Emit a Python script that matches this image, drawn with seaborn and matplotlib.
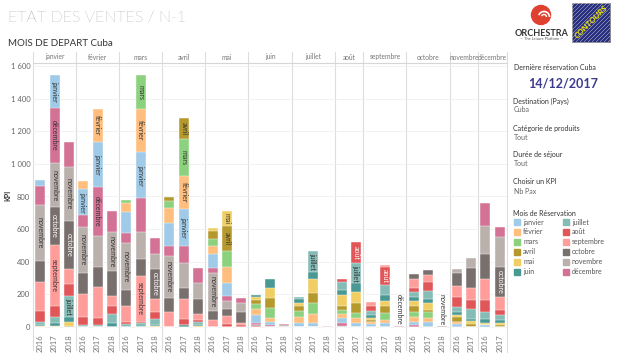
import numpy as np
import pandas as pd
import matplotlib
matplotlib.use("Agg")
import matplotlib.pyplot as plt
import seaborn as sns
from matplotlib.patches import Rectangle, Circle, Arc
from matplotlib.lines import Line2D

# --- data -------------------------------------------------------------
months = ["janvier", "février", "mars", "avril", "mai", "juin",
          "juillet", "août", "septembre", "octobre", "novembre", "décembre"]
month_colors = ["#a0cbe8", "#ffbe7d", "#8cd17d", "#b6992d", "#f1ce63", "#499894",
                "#86bcb6", "#e15759", "#ff9d9a", "#79706e", "#bab0ac", "#d37295"]
y_ticks = [0, 200, 400, 600, 800, 1000, 1200, 1400, 1600]

# Nb Pax per departure month / year, values in booking month order (janvier..décembre)
pax_janvier = {"2016": [41, 0, 0, 2, 2, 10, 15, 68, 178, 131, 339, 118],
               "2017": [205, 0, 0, 0, 8, 15, 36, 70, 374, 231, 269, 337],
               "2018": [0, 0, 0, 5, 28, 30, 129, 72, 92, 294, 329, 157]}
pax_fevrier = {"2016": [157, 53, 0, 0, 0, 0, 12, 47, 143, 131, 282, 72],
               "2017": [280, 198, 0, 0, 0, 0, 12, 41, 194, 123, 188, 298],
               "2018": [0, 0, 0, 0, 0, 23, 57, 51, 61, 153, 235, 133]}
pax_mars = {"2016": [129, 55, 16, 0, 0, 0, 16, 17, 98, 96, 290, 61],
            "2017": [287, 259, 211, 0, 0, 0, 26, 5, 282, 102, 169, 204],
            "2018": [0, 0, 0, 0, 5, 7, 35, 47, 76, 186, 91, 97]}
pax_avril = {"2016": [142, 88, 47, 21, 0, 0, 0, 0, 94, 82, 261, 60],
             "2017": [223, 205, 226, 127, 0, 12, 0, 35, 123, 71, 149, 108],
             "2018": [0, 0, 0, 0, 5, 8, 20, 10, 37, 90, 102, 88]}
pax_mai = {"2016": [83, 51, 41, 52, 14, 0, 0, 0, 43, 57, 229, 35],
           "2017": [82, 94, 102, 153, 92, 0, 0, 18, 51, 41, 51, 29],
           "2018": [0, 0, 0, 0, 0, 0, 3, 9, 14, 68, 51, 31]}
pax_juin = {"2016": [48, 34, 33, 25, 16, 14, 0, 6, 0, 6, 0, 14],
            "2017": [21, 24, 58, 61, 61, 55, 0, 0, 0, 0, 0, 12],
            "2018": [0, 0, 0, 0, 0, 0, 0, 0, 0, 0, 10, 8]}
pax_juillet = {"2016": [23, 36, 41, 29, 20, 21, 12, 0, 0, 0, 0, 0],
               "2017": [23, 57, 65, 62, 85, 43, 133, 0, 0, 0, 0, 0],
               "2018": [0, 0, 0, 0, 0, 0, 0, 0, 0, 0, 0, 6]}
pax_aout = {"2016": [34, 23, 24, 27, 65, 31, 51, 16, 0, 0, 5, 18],
            "2017": [26, 27, 35, 57, 71, 52, 122, 129, 0, 0, 0, 0]}
pax_septembre = {"2016": [18, 11, 0, 14, 14, 16, 25, 31, 26, 0, 0, 0],
                 "2017": [23, 20, 45, 41, 32, 35, 61, 109, 14, 0, 0, 0],
                 "2018": [0, 0, 0, 0, 0, 0, 0, 0, 0, 0, 0, 5]}
pax_octobre = {"2016": [21, 26, 35, 35, 32, 25, 30, 21, 57, 31, 0, 12],
               "2017": [29, 24, 41, 10, 41, 27, 51, 55, 41, 30, 0, 0],
               "2018": [0, 0, 0, 0, 0, 0, 0, 0, 0, 0, 5, 0]}
pax_novembre = {"2016": [18, 15, 0, 26, 15, 20, 27, 65, 65, 82, 21, 0],
                "2017": [0, 0, 0, 18, 21, 10, 59, 58, 71, 127, 57, 0]}
pax_decembre = {"2016": [12, 0, 0, 0, 14, 21, 43, 76, 126, 155, 172, 143],
                "2017": [0, 0, 0, 10, 13, 20, 31, 30, 82, 184, 180, 61]}

pax_by_departure = [pax_janvier, pax_fevrier, pax_mars, pax_avril, pax_mai, pax_juin,
                    pax_juillet, pax_aout, pax_septembre, pax_octobre, pax_novembre,
                    pax_decembre]

# tiny future bars whose label is written above the bar
outside_labels = {("septembre", "2018"): "décembre", ("octobre", "2018"): "novembre"}

# --- figure -----------------------------------------------------------
sns.set_style("white")
plt.rcParams["font.family"] = ["Lato", "DejaVu Sans"]

W, H = 620, 353
fig = plt.figure(figsize=(6.2, 3.53), dpi=100)

# overlay axes in pixel coordinates for texts, lines and logos
ov = fig.add_axes([0, 0, 1, 1])
ov.set_xlim(0, W)
ov.set_ylim(H, 0)
ov.axis("off")

x_left, x_right = 33, 507
p_top, p_bot = 63, 330
ylim = (-18, 1618)
px_per_unit = (p_bot - p_top) / (ylim[1] - ylim[0])


def luminance(hexcol):
    r, g, b = matplotlib.colors.to_rgb(hexcol)
    return 0.299 * r + 0.587 * g + 0.114 * b


n_slots = sum(len(d) for d in pax_by_departure)
slot_w = (x_right - x_left) / n_slots
xpos = x_left
seg_labels = []
for i, dep in enumerate(months):
    data = pax_by_departure[i]
    years = list(data.keys())
    w = slot_w * len(years)
    ax = fig.add_axes([xpos / W, 1 - p_bot / H, w / W, (p_bot - p_top) / H])
    ax.set_facecolor("none")

    # chronological booking order: month after departure (previous year) .. departure month
    order = [(i + 1 + k) % 12 for k in range(12)]
    vals = np.array([[data[y][m] for m in order] for y in years], dtype=float)
    cum = vals.cumsum(axis=1)

    for k in range(11, -1, -1):
        df = pd.DataFrame({"year": years, "pax": cum[:, k]})
        sns.barplot(data=df, x="year", y="pax", order=years, color=month_colors[order[k]],
                    saturation=1, width=0.7, errorbar=None, edgecolor="white",
                    linewidth=0.3, ax=ax)

    for j, y in enumerate(years):
        for k in range(12):
            v = vals[j, k]
            if v <= 0:
                continue
            m = order[k]
            col = "white" if luminance(month_colors[m]) < 0.55 else "#333333"
            t = ax.text(j, cum[j, k] - v / 2, months[m], rotation=270, ha="center",
                        va="center", fontsize=5, color=col)
            seg_labels.append((t, v * px_per_unit))
        if (dep, y) in outside_labels:
            ax.text(j, cum[j, -1] + 8, outside_labels[(dep, y)], rotation=270,
                    ha="center", va="bottom", fontsize=5, color="#333333")

    ax.set_xlim(-0.5, len(years) - 0.5)
    ax.set_ylim(*ylim)
    ax.set_yticks(y_ticks)
    ax.yaxis.grid(True, color="#f0f0f0", linewidth=0.6)
    ax.set_axisbelow(True)
    for s in ax.spines.values():
        s.set_visible(False)
    ax.set_xlabel("")
    ax.set_ylabel("")
    ax.tick_params(axis="x", length=0, pad=3, labelsize=5.5, labelcolor="#777777",
                   labelrotation=90)
    ax.tick_params(axis="y", length=0)
    if i == 0:
        ax.set_yticklabels([f"{v:,}".replace(",", " ") for v in y_ticks],
                           fontsize=5.5, color="#666666")
        ax.tick_params(axis="y", pad=2)
    else:
        ax.set_yticklabels([])

    ov.text(xpos + w / 2, 57, dep, ha="center", va="center", fontsize=4.8, color="#777777")
    ov.add_line(Line2D([xpos, xpos], [52, 350], color="#dddddd", linewidth=0.8))
    xpos += w

ov.add_line(Line2D([x_right, x_right], [52, 353], color="#dddddd", linewidth=0.8))
ov.add_line(Line2D([x_left, x_right], [63, 63], color="#d6d6d6", linewidth=0.8))

# remove segment labels that do not fit in their segment
renderer = fig.canvas.get_renderer()
for t, seg_px in seg_labels:
    if t.get_window_extent(renderer).height > seg_px - 3:
        t.remove()

# titles
ov.text(8, 18, "ETAT DES VENTES / N-1", fontsize=11.5, color="#6e6e6e",
        fontweight="light", va="center", ha="left")
ov.text(8, 43, "MOIS DE DEPART Cuba", fontsize=7, color="#333333", va="center", ha="left")
ov.text(8, 195, "KPI", rotation=90, fontsize=5, color="#333333", va="center", ha="center",
        fontweight="bold")

# logos
ov.add_patch(Circle((541, 15), 9.5, color="#e0402f"))
ov.add_patch(Arc((544, 17), 11, 11, theta1=200, theta2=360, color="white", linewidth=1.2))
ov.add_patch(Arc((544, 17), 5, 5, theta1=200, theta2=360, color="white", linewidth=1.0))
ov.text(542, 33, "ORCHESTRA", fontsize=6.5, fontweight="bold", color="#333333",
        ha="center", va="center")
ov.text(542, 39.5, "— The Leisure Platform —", fontsize=2.8, color="#555555",
        ha="center", va="center")
box = Rectangle((572, 3), 38, 39, facecolor="#262d7d", edgecolor="#8a8a8a", linewidth=0.5)
ov.add_patch(box)
for off in np.arange(-40, 40, 4):
    ln = Line2D([572 + off, 572 + off + 39], [42, 3], color="white", linewidth=0.3, alpha=0.8)
    ov.add_line(ln)
    ln.set_clip_path(box)
ov.text(591, 22, "CONTOURS", rotation=45, fontsize=6, fontweight="bold",
        fontstyle="italic", color="#f2e600", ha="center", va="center")

# right panel
ov.text(514, 67, "Dernière réservation Cuba", fontsize=5, color="#333333", va="center")
ov.text(563, 83, "14/12/2017", fontsize=9, fontweight="bold", color="#3d3b8e",
        ha="center", va="center")
info = [("Destination (Pays)", "Cuba", 101), ("Catégorie de produits", "Tout", 128),
        ("Durée de séjour", "Tout", 155), ("Choisir un KPI", "Nb Pax", 182)]
for head, val, yy in info:
    ov.text(513, yy, head, fontsize=5, color="#333333", va="center")
    ov.text(514, yy + 9, val, fontsize=5, color="#666666", va="center")
ov.text(513, 213, "Mois de Réservation", fontsize=5, color="#333333", va="center")
for k, m in enumerate(months):
    col_x = 514 if k < 6 else 563
    yy = 222 + (k % 6) * 9.9
    ov.add_patch(Rectangle((col_x, yy - 3), 6, 6, color=month_colors[k]))
    ov.text(col_x + 9, yy, m, fontsize=5, color="#555555", va="center")

fig.savefig("out.png", dpi=100)
